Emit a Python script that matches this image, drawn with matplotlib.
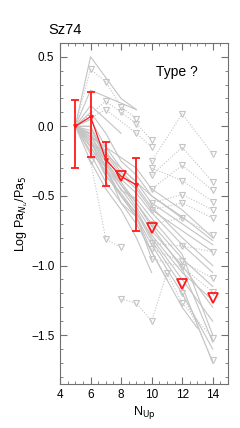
import matplotlib
matplotlib.use('Agg')
import matplotlib.pyplot as plt
from matplotlib.ticker import MultipleLocator

plt.rcParams['font.family'] = ['Liberation Sans', 'DejaVu Sans']

# individual sources, solid (detections)
solid_n = [
    [5, 6, 7, 8, 9],
    [5, 6, 9],
    [5, 6, 7, 8, 9, 10, 12, 14],
    [5, 6, 7, 8, 9, 10, 12, 14],
    [5, 6, 7, 8, 9, 10, 12, 14],
    [5, 6, 7, 8, 9, 10, 12, 14],
    [5, 6, 7, 8, 9, 10, 12, 14],
    [5, 6, 7, 8, 9, 10, 11, 12, 13],
    [5, 6, 7, 8, 9, 10],
    [5, 6, 7, 8, 9, 10, 12, 14],
    [5, 6, 7, 8, 9, 10, 12, 14],
    [5, 6, 7, 8, 9, 10, 12, 14],
    [5, 6, 7, 8, 9, 10, 12, 14],
    [5, 6, 7, 8, 9, 10, 11],
    [5, 6, 7, 8, 9, 10, 12],
    [5, 7, 9, 10, 12, 14],
    [5, 6, 7, 8, 9, 10, 12, 14],
    [5, 6, 7, 8, 9, 10],
    [5, 6, 7, 8],
    [5, 6, 7, 8, 9, 10, 12, 14],
    [5, 6, 7, 8, 9, 10, 12, 14],
    [5, 6, 7, 8, 9, 10, 12, 14],
]
solid_v = [
    [0, 0.50, 0.35, 0.20, 0.12],
    [0, 0.26, 0.12],
    [0, 0.05, -0.15, -0.30, -0.40, -0.55, -0.70, -0.85],
    [0, -0.05, -0.20, -0.35, -0.45, -0.60, -0.75, -0.90],
    [0, -0.10, -0.25, -0.40, -0.55, -0.70, -0.95, -1.15],
    [0, -0.15, -0.30, -0.45, -0.60, -0.80, -1.10, -1.40],
    [0, -0.10, -0.35, -0.50, -0.65, -0.85, -1.20, -1.60],
    [0, -0.20, -0.40, -0.55, -0.70, -0.90, -1.10, -1.30, -1.45],
    [0, -0.05, -0.30, -0.50, -0.65, -0.95],
    [0, 0.00, -0.20, -0.30, -0.40, -0.50, -0.65, -0.82],
    [0, -0.08, -0.22, -0.38, -0.48, -0.62, -0.85, -1.05],
    [0, -0.12, -0.28, -0.42, -0.58, -0.75, -1.00, -1.30],
    [0, -0.18, -0.32, -0.50, -0.62, -0.82, -1.15, -1.70],
    [0, -0.10, -0.30, -0.55, -0.65, -0.90, -1.10],
    [0, 0.10, -0.05, -0.25, -0.35, -0.50, -0.66],
    [0, -0.15, -0.30, -0.45, -0.60, -0.80],
    [0, 0.00, -0.25, -0.42, -0.55, -0.72, -1.02, -1.55],
    [0, -0.25, -0.45, -0.60, -0.80, -1.05],
    [0, 0.15, 0.05, -0.05],
    [0, -0.03, -0.18, -0.33, -0.43, -0.58, -0.80, -1.00],
    [0, -0.14, -0.36, -0.48, -0.63, -0.78, -1.05, -1.25],
    [0, -0.06, -0.26, -0.46, -0.52, -0.66, -0.92, -1.50],
]

# individual sources, dotted (upper limits)
dotted_n = [
    [5, 6, 7, 8, 9],
    [5, 7, 8, 9, 10],
    [5, 7, 9, 10],
    [10, 12, 14],
    [10, 12, 14],
    [10, 12, 14],
    [10, 12, 14],
    [10, 12, 14],
    [10, 12, 14],
    [10, 12, 14],
    [10, 12, 14],
    [10, 12, 14],
    [10, 12, 14],
    [8, 9, 10, 11, 12, 14],
    [6, 7, 8],
    [12, 14],
]
dotted_v = [
    [0, 0.41, 0.32, 0.14, 0.055],
    [0, 0.18, 0.10, 0.02, -0.10],
    [0, 0.12, -0.05, -0.15],
    [-0.25, 0.09, -0.20],
    [-0.35, -0.15, -0.40],
    [-0.45, -0.28, -0.46],
    [-0.30, -0.39, -0.54],
    [-0.55, -0.49, -0.60],
    [-0.60, -0.55, -0.66],
    [-0.70, -0.66, -0.78],
    [-0.84, -0.86, -0.90],
    [-0.88, -0.97, -1.09],
    [-0.95, -1.01, -1.19],
    [-1.24, -1.27, -1.40, -1.05, -1.27, -1.52],
    [-0.25, -0.81, -0.87],
    [-1.20, -1.68],
]

# mean values (red)
mean_n = [5, 6, 7, 8, 9]
mean_v = [0.0, 0.07, -0.24, -0.36, -0.42]
err_n = [5, 6, 7, 9]
err_v = [0.0, 0.07, -0.24, -0.42]
err_lo = [0.30, 0.29, 0.19, 0.33]
err_hi = [0.19, 0.175, 0.13, 0.19]
lim_n = [8, 10, 12, 14]
lim_v = [-0.36, -0.73, -1.13, -1.23]

fig = plt.figure(figsize=(2.4, 4.28), dpi=100)
ax = fig.add_axes([0.25, 0.103, 0.70, 0.797])

gray = '#c4c4c4'
for n, v in zip(solid_n, solid_v):
    ax.plot(n, v, color=gray, lw=0.8)
for n, v in zip(dotted_n, dotted_v):
    ax.plot(n, v, color=gray, lw=0.8, ls=(0, (1, 1.5)))
    mn = [a for a in n if a != 5]
    mv = [b for a, b in zip(n, v) if a != 5]
    ax.plot(mn, mv, ls='none', marker='v', ms=4, mfc='none', mec=gray, mew=0.8)

red = '#ff1a1a'
ax.plot(mean_n, mean_v, color=red, lw=0.9)
ax.errorbar(err_n, err_v, yerr=[err_lo, err_hi], fmt='v', ms=2.5, color=red,
            ecolor=red, elinewidth=1.3, capsize=3, capthick=1.3)
ax.plot(lim_n, lim_v, ls='none', marker='v', ms=7, mfc='none', mec=red, mew=1.3)

ax.set_xlim(4, 15)
ax.set_ylim(-1.85, 0.6)
ax.xaxis.set_major_locator(MultipleLocator(2))
ax.xaxis.set_minor_locator(MultipleLocator(0.5))
ax.yaxis.set_major_locator(MultipleLocator(0.5))
ax.yaxis.set_minor_locator(MultipleLocator(0.1))
ax.tick_params(which='both', direction='in', top=True, right=True,
               color='#707070', labelsize=8.5, pad=4)
ax.tick_params(which='major', length=5)
ax.tick_params(which='minor', length=2.5)
for s in ax.spines.values():
    s.set_color('#707070')

ax.set_xlabel('N$_{\\rm Up}$', fontsize=9, labelpad=2)
ax.set_ylabel('Log Pa$_{N_u}$/Pa$_5$', fontsize=9, labelpad=1)
ax.text(-0.07, 1.017, 'Sz74', transform=ax.transAxes, ha='left', va='bottom', fontsize=10.5)
ax.text(0.82, 0.915, 'Type ?', transform=ax.transAxes, ha='right', va='center', fontsize=10)

fig.savefig('out.png', dpi=100)
